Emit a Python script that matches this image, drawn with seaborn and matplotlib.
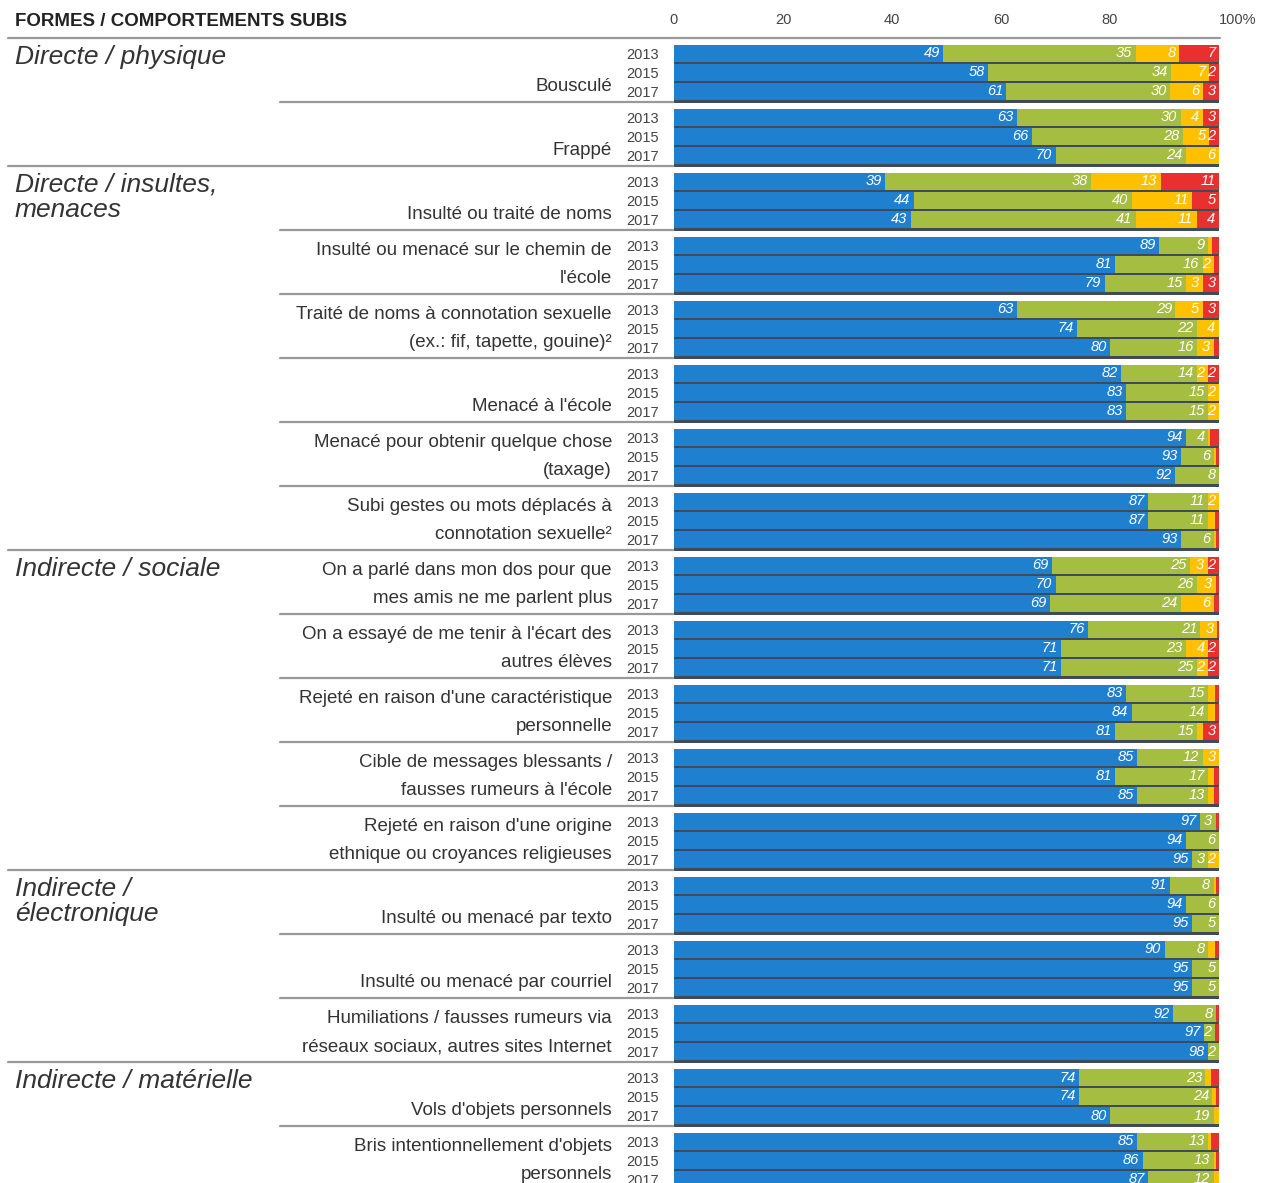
import matplotlib
matplotlib.use('Agg')
import matplotlib.pyplot as plt
import matplotlib.transforms as mtransforms
from matplotlib.lines import Line2D
import pandas as pd
import seaborn as sns

# --- données (% par année : 2013, 2015, 2017) ---
annees = ['2013', '2015', '2017']

items = [
    'Bousculé',
    'Frappé',
    'Insulté ou traité de noms',
    "Insulté ou menacé sur le chemin de\nl'école",
    'Traité de noms à connotation sexuelle\n(ex.: fif, tapette, gouine)²',
    "Menacé à l'école",
    'Menacé pour obtenir quelque chose\n(taxage)',
    'Subi gestes ou mots déplacés à\nconnotation sexuelle²',
    'On a parlé dans mon dos pour que\nmes amis ne me parlent plus',
    "On a essayé de me tenir à l'écart des\nautres élèves",
    "Rejeté en raison d'une caractéristique\npersonnelle",
    'Cible de messages blessants /\nfausses rumeurs à l\'école',
    "Rejeté en raison d'une origine\nethnique ou croyances religieuses",
    'Insulté ou menacé par texto',
    'Insulté ou menacé par courriel',
    'Humiliations / fausses rumeurs via\nréseaux sociaux, autres sites Internet',
    "Vols d'objets personnels",
    "Bris intentionnellement d'objets\npersonnels",
]

categories = ['Directe / physique', 'Directe / insultes,\nmenaces', 'Indirecte / sociale',
              'Indirecte /\nélectronique', 'Indirecte / matérielle']
debut_categorie = [0, 2, 8, 13, 16]   # premier item de chaque catégorie

bleu = [[49.4, 57.6, 61], [63, 65.6, 70], [38.8, 44, 43.4], [89, 81, 79], [63, 74, 80],
        [82, 83, 83], [94, 93, 92], [87, 87, 93], [69.4, 70, 69], [76, 71, 71],
        [83, 84, 81], [85, 81, 85], [96.6, 94, 95], [91, 94, 95], [90, 95, 95],
        [91.6, 97.3, 98], [74.4, 74.4, 80], [85, 86, 87]]
vert = [[35.3, 33.6, 30], [30, 27.8, 24], [37.7, 40, 41.3], [9, 16, 15], [29, 22, 16],
        [14, 15, 15], [4, 6, 8], [11, 11, 6], [25.3, 26, 24], [20.6, 23, 25],
        [15, 14, 15], [12, 17, 13], [2.8, 6, 3], [8, 6, 5], [8, 5, 5],
        [7.8, 2, 2], [23.1, 24.4, 19], [13, 13, 12]]
jaune = [[8, 7, 6], [4, 4.8, 6], [12.8, 11, 11.2], [0.7, 2, 3], [5, 4, 3],
         [2, 2, 2], [0.3, 0.4, 0], [2, 1.2, 0.4], [3.2, 3.4, 6], [3, 4, 2],
         [1.2, 1.2, 1], [3, 1, 1], [0, 0, 2], [0.4, 0, 0], [1.3, 0, 0],
         [0, 0, 0], [1, 0.6, 1], [0.5, 0.5, 1]]
rouge = [[7.3, 1.8, 3], [3, 1.8, 0], [10.7, 5, 4.1], [1.3, 1, 3], [3, 0, 1],
         [2, 0, 0], [1.7, 0.6, 0], [0, 0.8, 0.6], [2.1, 0.6, 1], [0.4, 2, 2],
         [0.8, 0.8, 3], [0, 1, 1], [0.6, 0, 0], [0.6, 0, 0], [0.7, 0, 0],
         [0.6, 0.7, 0], [1.5, 0.6, 0], [1.5, 0.5, 0]]

couleurs = {'b': '#2080d0', 'v': '#a5bd40', 'j': '#ffc000', 'r': '#e8302e'}

# --- mise en forme ---
W, H = 1262, 1183
pas = 64 / 19  # écart entre groupes (en hauteur de barre)

rows = []
for g, item in enumerate(items):
    for k, an in enumerate(annees):
        rows.append(dict(item=item, annee=an, pos=g * pas + k,
                         b=bleu[g][k], v=vert[g][k], j=jaune[g][k], r=rouge[g][k]))
df = pd.DataFrame(rows)
df['c_b'] = df['b']
df['c_v'] = df['c_b'] + df['v']
df['c_j'] = df['c_v'] + df['j']
df['c_r'] = df['c_j'] + df['r']
df['ombre'] = df['pos'] + 0.08

sns.set_theme(style='white')
plt.rcParams['font.family'] = ['Liberation Sans', 'DejaVu Sans']

fig = plt.figure(figsize=(W / 100, H / 100), dpi=100)
ax = fig.add_axes([674 / W, 0, 545 / W, 1143 / H])

# ombre sous les barres
sns.barplot(data=df, x='c_r', y='ombre', orient='h', native_scale=True, width=1.0,
            color='#3c4c5c', saturation=1, linewidth=0, errorbar=None, ax=ax)
# barres empilées (du plus long au plus court)
for col, seg in [('c_r', 'r'), ('c_j', 'j'), ('c_v', 'v'), ('c_b', 'b')]:
    sns.barplot(data=df, x=col, y='pos', orient='h', native_scale=True, width=0.88,
                color=couleurs[seg], saturation=1, linewidth=0, errorbar=None, ax=ax)

for cont, seg in zip(ax.containers[1:], ['r', 'j', 'v', 'b']):
    labels = [f'{v:.0f}' if v >= 1.75 else '' for v in df[seg]]
    texts = ax.bar_label(cont, labels=labels, padding=-2.5, color='white',
                         fontsize=10.5, fontstyle='italic', annotation_clip=False)
    for t in texts:
        t.set_ha('right')

ax.set_xlabel('')
ax.set_ylabel('')
sns.despine(ax=ax, left=True, bottom=True, top=True, right=True)

ax.xaxis.tick_top()
ax.set_xticks([0, 20, 40, 60, 80, 100])
ax.set_xticklabels(['0', '20', '40', '60', '80', '100%'])
ax.tick_params(axis='x', length=0, pad=9, labelsize=10.5, labelcolor='#444')
ax.xaxis.get_major_ticks()[-1].label2.set_ha('left')

ax.set_yticks(df['pos'])
ax.set_yticklabels(df['annee'])
ax.tick_params(axis='y', length=0, pad=11, labelsize=10.5, labelcolor='#444')

trans = mtransforms.blended_transform_factory(fig.transFigure, ax.transData)

# titre de colonne et ligne
fig.text(15 / W, 1 - 21 / H, 'FORMES / COMPORTEMENTS SUBIS', fontsize=13.5,
         fontweight='bold', va='center', color='#222')
fig.add_artist(Line2D([8 / W, 1220 / W], [1 - 38 / H] * 2, transform=fig.transFigure,
                      color='#999999', lw=1.6))

for g, item in enumerate(items):
    ax.text(612 / W, g * pas + 2.2, item, transform=trans, ha='right', va='bottom',
            fontsize=13.5, linespacing=1.85, color='#333')
    x0 = 8 / W if (g + 1) in debut_categorie else 280 / W
    ax.plot([x0, 673 / W], [g * pas + 2.55] * 2, transform=trans, color='#999999',
            lw=1.6, clip_on=False)

for cat, g in zip(categories, debut_categorie):
    ax.text(15 / W, g * pas - 0.45, cat, transform=trans, ha='left', va='top',
            fontsize=19, fontstyle='italic', linespacing=1.08, color='#333')

ax.set_xlim(0, 100)
ax.set_ylim(-0.5 + (H - 44) / 19, -0.5 - 4 / 19)

fig.savefig('out.png', dpi=100)
